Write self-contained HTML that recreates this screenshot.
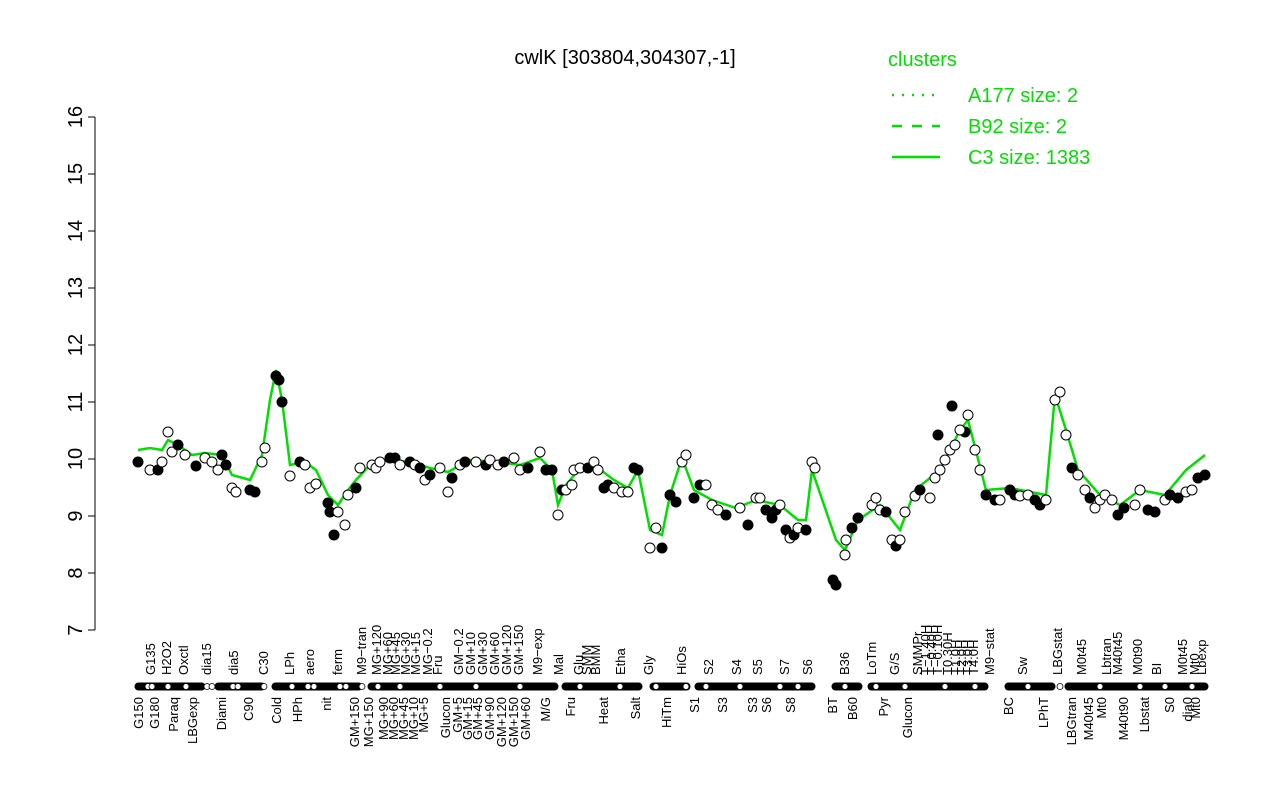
<!DOCTYPE html>
<html><head><meta charset="utf-8"><style>
body{margin:0;background:#fff}
svg text{font-family:"Liberation Sans",sans-serif}
</style></head><body>
<svg width="1280" height="800" xmlns="http://www.w3.org/2000/svg">
<rect width="1280" height="800" fill="#fff"/>
<text x="625" y="64" font-size="20" text-anchor="middle">cwlK [303804,304307,-1]</text>
<g stroke="#000" stroke-width="1">
<line x1="95" y1="117" x2="95" y2="630"/>
<line x1="95" y1="117" x2="88" y2="117"/><line x1="95" y1="174" x2="88" y2="174"/>
<line x1="95" y1="231" x2="88" y2="231"/><line x1="95" y1="288" x2="88" y2="288"/>
<line x1="95" y1="345" x2="88" y2="345"/><line x1="95" y1="402" x2="88" y2="402"/>
<line x1="95" y1="459" x2="88" y2="459"/><line x1="95" y1="516" x2="88" y2="516"/>
<line x1="95" y1="573" x2="88" y2="573"/><line x1="95" y1="630" x2="88" y2="630"/>
</g>
<g font-size="20" text-anchor="middle">
<text transform="translate(82,117) rotate(-90)">16</text>
<text transform="translate(82,174) rotate(-90)">15</text>
<text transform="translate(82,231) rotate(-90)">14</text>
<text transform="translate(82,288) rotate(-90)">13</text>
<text transform="translate(82,345) rotate(-90)">12</text>
<text transform="translate(82,402) rotate(-90)">11</text>
<text transform="translate(82,459) rotate(-90)">10</text>
<text transform="translate(82,516) rotate(-90)">9</text>
<text transform="translate(82,573) rotate(-90)">8</text>
<text transform="translate(82,630) rotate(-90)">7</text>
</g>
<text x="888" y="66" font-size="20" fill="#00e000">clusters</text>
<line x1="892" y1="95" x2="940" y2="95" stroke="#00e000" stroke-width="2.5" stroke-dasharray="2,8"/>
<text x="968" y="102" font-size="20" fill="#00e000">A177 size: 2</text>
<line x1="892" y1="126" x2="940" y2="126" stroke="#00e000" stroke-width="2.5" stroke-dasharray="10,10"/>
<text x="968" y="133" font-size="20" fill="#00e000">B92 size: 2</text>
<line x1="892" y1="157" x2="940" y2="157" stroke="#00e000" stroke-width="2.5"/>
<text x="968" y="164" font-size="20" fill="#00e000">C3 size: 1383</text>
<polyline fill="none" stroke="#00e000" stroke-width="2.5" points="138,450 150,448 162,450 168,440 178,445 192,455 205,453 222,455 232,475 250,480 262,455 270,400 276,370 282,400 290,465 305,462 316,470 328,495 338,505 348,490 356,480 370,465 390,460 410,462 430,468 448,472 470,460 498,462 520,465 540,458 552,470 558,505 566,485 580,468 598,468 614,480 628,488 638,470 650,530 662,535 670,495 682,458 694,490 712,500 736,508 756,500 780,505 798,520 806,520 812,470 836,540 845,550 858,520 880,505 900,530 915,490 940,470 960,430 968,420 986,490 1010,488 1046,495 1055,395 1066,430 1078,470 1100,495 1120,505 1140,490 1165,495 1186,470 1205,455"/>
<g stroke="#000" stroke-width="1" fill="#fff">
<circle cx="138" cy="462" r="5" fill="#000"/><circle cx="150" cy="470" r="5"/><circle cx="158" cy="470" r="5" fill="#000"/><circle cx="162" cy="462" r="5"/><circle cx="168" cy="432" r="5"/><circle cx="172" cy="452" r="5"/><circle cx="178" cy="445" r="5" fill="#000"/><circle cx="185" cy="455" r="5"/><circle cx="196" cy="466" r="5" fill="#000"/><circle cx="205" cy="458" r="5"/><circle cx="212" cy="462" r="5"/><circle cx="218" cy="470" r="5"/><circle cx="222" cy="455" r="5" fill="#000"/><circle cx="226" cy="465" r="5" fill="#000"/><circle cx="232" cy="488" r="5"/><circle cx="236" cy="492" r="5"/><circle cx="250" cy="490" r="5" fill="#000"/><circle cx="255" cy="492" r="5" fill="#000"/><circle cx="262" cy="462" r="5"/><circle cx="265" cy="448" r="5"/><circle cx="276" cy="376" r="5" fill="#000"/><circle cx="279" cy="380" r="5" fill="#000"/><circle cx="282" cy="402" r="5" fill="#000"/><circle cx="290" cy="476" r="5"/><circle cx="300" cy="462" r="5" fill="#000"/><circle cx="305" cy="465" r="5"/><circle cx="310" cy="488" r="5"/><circle cx="316" cy="484" r="5"/><circle cx="328" cy="503" r="5" fill="#000"/><circle cx="330" cy="512" r="5" fill="#000"/><circle cx="334" cy="535" r="5" fill="#000"/><circle cx="338" cy="512" r="5"/><circle cx="345" cy="525" r="5"/><circle cx="348" cy="495" r="5"/><circle cx="356" cy="488" r="5" fill="#000"/><circle cx="360" cy="468" r="5"/><circle cx="372" cy="465" r="5"/><circle cx="376" cy="468" r="5"/><circle cx="380" cy="462" r="5"/><circle cx="390" cy="458" r="5" fill="#000"/><circle cx="395" cy="458" r="5" fill="#000"/><circle cx="400" cy="465" r="5"/><circle cx="410" cy="462" r="5" fill="#000"/><circle cx="415" cy="465" r="5"/><circle cx="420" cy="468" r="5" fill="#000"/><circle cx="425" cy="480" r="5"/><circle cx="430" cy="475" r="5" fill="#000"/><circle cx="440" cy="468" r="5"/><circle cx="448" cy="492" r="5"/><circle cx="452" cy="478" r="5" fill="#000"/><circle cx="460" cy="465" r="5"/><circle cx="465" cy="462" r="5" fill="#000"/><circle cx="476" cy="462" r="5"/><circle cx="486" cy="465" r="5" fill="#000"/><circle cx="490" cy="460" r="5"/><circle cx="498" cy="465" r="5"/><circle cx="504" cy="462" r="5" fill="#000"/><circle cx="514" cy="458" r="5"/><circle cx="520" cy="470" r="5"/><circle cx="528" cy="468" r="5" fill="#000"/><circle cx="540" cy="452" r="5"/><circle cx="546" cy="470" r="5" fill="#000"/><circle cx="552" cy="470" r="5" fill="#000"/><circle cx="558" cy="515" r="5"/><circle cx="562" cy="490" r="5" fill="#000"/><circle cx="566" cy="490" r="5"/><circle cx="572" cy="485" r="5"/><circle cx="574" cy="470" r="5"/><circle cx="580" cy="468" r="5"/><circle cx="588" cy="468" r="5" fill="#000"/><circle cx="594" cy="462" r="5"/><circle cx="598" cy="470" r="5"/><circle cx="604" cy="488" r="5" fill="#000"/><circle cx="608" cy="485" r="5" fill="#000"/><circle cx="614" cy="488" r="5"/><circle cx="622" cy="492" r="5"/><circle cx="628" cy="492" r="5"/><circle cx="634" cy="468" r="5" fill="#000"/><circle cx="638" cy="470" r="5" fill="#000"/><circle cx="650" cy="548" r="5"/><circle cx="656" cy="528" r="5"/><circle cx="662" cy="548" r="5" fill="#000"/><circle cx="670" cy="495" r="5" fill="#000"/><circle cx="676" cy="502" r="5" fill="#000"/><circle cx="682" cy="462" r="5"/><circle cx="686" cy="455" r="5"/><circle cx="694" cy="498" r="5" fill="#000"/><circle cx="700" cy="485" r="5" fill="#000"/><circle cx="706" cy="485" r="5"/><circle cx="712" cy="505" r="5"/><circle cx="718" cy="510" r="5"/><circle cx="726" cy="515" r="5" fill="#000"/><circle cx="740" cy="508" r="5"/><circle cx="748" cy="525" r="5" fill="#000"/><circle cx="756" cy="498" r="5"/><circle cx="760" cy="498" r="5"/><circle cx="766" cy="510" r="5" fill="#000"/><circle cx="772" cy="518" r="5" fill="#000"/><circle cx="776" cy="510" r="5" fill="#000"/><circle cx="780" cy="505" r="5"/><circle cx="786" cy="530" r="5" fill="#000"/><circle cx="790" cy="538" r="5"/><circle cx="794" cy="535" r="5" fill="#000"/><circle cx="798" cy="528" r="5"/><circle cx="806" cy="530" r="5" fill="#000"/><circle cx="812" cy="462" r="5"/><circle cx="815" cy="468" r="5"/><circle cx="833" cy="580" r="5" fill="#000"/><circle cx="836" cy="585" r="5" fill="#000"/><circle cx="845" cy="555" r="5"/><circle cx="846" cy="540" r="5"/><circle cx="852" cy="528" r="5" fill="#000"/><circle cx="858" cy="518" r="5" fill="#000"/><circle cx="872" cy="505" r="5"/><circle cx="876" cy="498" r="5"/><circle cx="880" cy="510" r="5"/><circle cx="886" cy="512" r="5" fill="#000"/><circle cx="892" cy="540" r="5"/><circle cx="896" cy="546" r="5" fill="#000"/><circle cx="900" cy="540" r="5"/><circle cx="905" cy="512" r="5"/><circle cx="915" cy="496" r="5"/><circle cx="920" cy="490" r="5" fill="#000"/><circle cx="930" cy="498" r="5"/><circle cx="935" cy="478" r="5"/><circle cx="940" cy="470" r="5"/><circle cx="945" cy="460" r="5"/><circle cx="950" cy="450" r="5"/><circle cx="955" cy="445" r="5"/><circle cx="965" cy="432" r="5" fill="#000"/><circle cx="938" cy="435" r="5" fill="#000"/><circle cx="952" cy="406" r="5" fill="#000"/><circle cx="960" cy="430" r="5"/><circle cx="968" cy="415" r="5"/><circle cx="975" cy="450" r="5"/><circle cx="980" cy="470" r="5"/><circle cx="986" cy="495" r="5" fill="#000"/><circle cx="995" cy="500" r="5" fill="#000"/><circle cx="1000" cy="500" r="5"/><circle cx="1010" cy="490" r="5" fill="#000"/><circle cx="1015" cy="495" r="5" fill="#000"/><circle cx="1020" cy="496" r="5"/><circle cx="1028" cy="495" r="5"/><circle cx="1035" cy="500" r="5" fill="#000"/><circle cx="1040" cy="505" r="5" fill="#000"/><circle cx="1046" cy="500" r="5"/><circle cx="1055" cy="400" r="5"/><circle cx="1060" cy="392" r="5"/><circle cx="1066" cy="435" r="5"/><circle cx="1072" cy="468" r="5" fill="#000"/><circle cx="1078" cy="475" r="5"/><circle cx="1085" cy="490" r="5"/><circle cx="1090" cy="498" r="5" fill="#000"/><circle cx="1095" cy="508" r="5"/><circle cx="1100" cy="500" r="5"/><circle cx="1105" cy="495" r="5"/><circle cx="1112" cy="500" r="5"/><circle cx="1118" cy="515" r="5" fill="#000"/><circle cx="1124" cy="508" r="5" fill="#000"/><circle cx="1135" cy="505" r="5"/><circle cx="1140" cy="490" r="5"/><circle cx="1148" cy="510" r="5" fill="#000"/><circle cx="1155" cy="512" r="5" fill="#000"/><circle cx="1165" cy="500" r="5"/><circle cx="1170" cy="495" r="5" fill="#000"/><circle cx="1178" cy="498" r="5" fill="#000"/><circle cx="1186" cy="492" r="5"/><circle cx="1192" cy="490" r="5"/><circle cx="1198" cy="478" r="5" fill="#000"/><circle cx="1205" cy="475" r="5" fill="#000"/>
</g>
<!-- rug -->
<g stroke="#000" stroke-width="1" fill="#000">
<rect x="135" y="683" width="70" height="7" rx="3.5"/><rect x="215" y="683" width="50" height="7" rx="3.5"/><rect x="272" y="683" width="90" height="7" rx="3.5"/><rect x="368" y="683" width="190" height="7" rx="3.5"/><rect x="562" y="683" width="80" height="7" rx="3.5"/><rect x="650" y="683" width="40" height="7" rx="3.5"/><rect x="695" y="683" width="120" height="7" rx="3.5"/><rect x="832" y="683" width="30" height="7" rx="3.5"/><rect x="868" y="683" width="120" height="7" rx="3.5"/><rect x="1005" y="683" width="50" height="7" rx="3.5"/><rect x="1065" y="683" width="143" height="7" rx="3.5"/>
</g>
<g stroke="#000" stroke-width="0.8" fill="#fff">
<circle cx="148" cy="686.5" r="3"/><circle cx="152" cy="686.5" r="3"/><circle cx="168" cy="686.5" r="3"/><circle cx="186" cy="686.5" r="3"/><circle cx="207" cy="686.5" r="3"/><circle cx="212" cy="686.5" r="3"/><circle cx="233" cy="686.5" r="3"/><circle cx="238" cy="686.5" r="3"/><circle cx="264" cy="686.5" r="3"/><circle cx="292" cy="686.5" r="3"/><circle cx="308" cy="686.5" r="3"/><circle cx="314" cy="686.5" r="3"/><circle cx="340" cy="686.5" r="3"/><circle cx="346" cy="686.5" r="3"/><circle cx="362" cy="686.5" r="3"/><circle cx="378" cy="686.5" r="3"/><circle cx="400" cy="686.5" r="3"/><circle cx="440" cy="686.5" r="3"/><circle cx="476" cy="686.5" r="3"/><circle cx="520" cy="686.5" r="3"/><circle cx="580" cy="686.5" r="3"/><circle cx="620" cy="686.5" r="3"/><circle cx="656" cy="686.5" r="3"/><circle cx="686" cy="686.5" r="3"/><circle cx="706" cy="686.5" r="3"/><circle cx="740" cy="686.5" r="3"/><circle cx="780" cy="686.5" r="3"/><circle cx="798" cy="686.5" r="3"/><circle cx="845" cy="686.5" r="3"/><circle cx="876" cy="686.5" r="3"/><circle cx="905" cy="686.5" r="3"/><circle cx="945" cy="686.5" r="3"/><circle cx="975" cy="686.5" r="3"/><circle cx="1028" cy="686.5" r="3"/><circle cx="1060" cy="686.5" r="3"/><circle cx="1100" cy="686.5" r="3"/><circle cx="1140" cy="686.5" r="3"/><circle cx="1165" cy="686.5" r="3"/><circle cx="1192" cy="686.5" r="3"/>
</g>
<!-- labels above rug -->
<g font-size="13" text-anchor="start">
<text transform="translate(155,675) rotate(-90)">G135</text>
<text transform="translate(171,675) rotate(-90)">H2O2</text>
<text transform="translate(188,675) rotate(-90)">Oxctl</text>
<text transform="translate(211,675) rotate(-90)">dia15</text>
<text transform="translate(238,675) rotate(-90)">dia5</text>
<text transform="translate(268,675) rotate(-90)">C30</text>
<text transform="translate(294,675) rotate(-90)">LPh</text>
<text transform="translate(314,675) rotate(-90)">aero</text>
<text transform="translate(342,675) rotate(-90)">ferm</text>
<text transform="translate(366,675) rotate(-90)">M9−tran</text>
<text transform="translate(381,675) rotate(-90)">MG+120</text>
<text transform="translate(392,675) rotate(-90)">MG+60</text>
<text transform="translate(400,675) rotate(-90)">MG+45</text>
<text transform="translate(410,675) rotate(-90)">MG+30</text>
<text transform="translate(420,675) rotate(-90)">MG+15</text>
<text transform="translate(432,675) rotate(-90)">MG−0.2</text>
<text transform="translate(442,675) rotate(-90)">Fru</text>
<text transform="translate(463,675) rotate(-90)">GM−0.2</text>
<text transform="translate(475,675) rotate(-90)">GM+10</text>
<text transform="translate(487,675) rotate(-90)">GM+30</text>
<text transform="translate(499,675) rotate(-90)">GM+60</text>
<text transform="translate(511,675) rotate(-90)">GM+120</text>
<text transform="translate(523,675) rotate(-90)">GM+150</text>
<text transform="translate(542,675) rotate(-90)">M9−exp</text>
<text transform="translate(563,675) rotate(-90)">Mal</text>
<text transform="translate(583,675) rotate(-90)">Glu</text>
<text transform="translate(591,675) rotate(-90)">SMM</text>
<text transform="translate(600,675) rotate(-90)">BMM</text>
<text transform="translate(625,675) rotate(-90)">Etha</text>
<text transform="translate(653,675) rotate(-90)">Gly</text>
<text transform="translate(686,675) rotate(-90)">HiOs</text>
<text transform="translate(713,675) rotate(-90)">S2</text>
<text transform="translate(741,675) rotate(-90)">S4</text>
<text transform="translate(762,675) rotate(-90)">S5</text>
<text transform="translate(789,675) rotate(-90)">S7</text>
<text transform="translate(812,675) rotate(-90)">S6</text>
<text transform="translate(849,675) rotate(-90)">B36</text>
<text transform="translate(876,675) rotate(-90)">LoTm</text>
<text transform="translate(899,675) rotate(-90)">G/S</text>
<text transform="translate(922,675) rotate(-90)">SMMPr</text>
<text transform="translate(930,675) rotate(-90)">T−1.40H</text>
<text transform="translate(936,675) rotate(-90)">T−0.40H</text>
<text transform="translate(942,675) rotate(-90)">T−0.10H</text>
<text transform="translate(952,675) rotate(-90)">T0.30H</text>
<text transform="translate(960,675) rotate(-90)">T1.0H</text>
<text transform="translate(966,675) rotate(-90)">T2.0H</text>
<text transform="translate(972,675) rotate(-90)">T3.0H</text>
<text transform="translate(978,675) rotate(-90)">T4.0H</text>
<text transform="translate(994,675) rotate(-90)">M9−stat</text>
<text transform="translate(1027,675) rotate(-90)">Sw</text>
<text transform="translate(1062,675) rotate(-90)">LBGstat</text>
<text transform="translate(1086,675) rotate(-90)">M0t45</text>
<text transform="translate(1111,675) rotate(-90)">Lbtran</text>
<text transform="translate(1122,675) rotate(-90)">M40t45</text>
<text transform="translate(1142,675) rotate(-90)">M0t90</text>
<text transform="translate(1161,675) rotate(-90)">BI</text>
<text transform="translate(1187,675) rotate(-90)">M0t45</text>
<text transform="translate(1199,675) rotate(-90)">Mt0</text>
<text transform="translate(1206,675) rotate(-90)">Lbexp</text>
</g>
<!-- labels below rug -->
<g font-size="13" text-anchor="end">
<text transform="translate(143,697) rotate(-90)">G150</text>
<text transform="translate(159,697) rotate(-90)">G180</text>
<text transform="translate(178,697) rotate(-90)">Paraq</text>
<text transform="translate(197,697) rotate(-90)">LBGexp</text>
<text transform="translate(226,697) rotate(-90)">Diami</text>
<text transform="translate(253,697) rotate(-90)">C90</text>
<text transform="translate(281,697) rotate(-90)">Cold</text>
<text transform="translate(302,697) rotate(-90)">HPh</text>
<text transform="translate(331,697) rotate(-90)">nit</text>
<text transform="translate(359,697) rotate(-90)">GM+150</text>
<text transform="translate(373,697) rotate(-90)">MG+150</text>
<text transform="translate(388,697) rotate(-90)">MG+90</text>
<text transform="translate(398,697) rotate(-90)">MG+60</text>
<text transform="translate(408,697) rotate(-90)">MG+45</text>
<text transform="translate(418,697) rotate(-90)">MG+10</text>
<text transform="translate(428,697) rotate(-90)">MG+5</text>
<text transform="translate(450,697) rotate(-90)">Glucon</text>
<text transform="translate(462,697) rotate(-90)">GM+5</text>
<text transform="translate(472,697) rotate(-90)">GM+15</text>
<text transform="translate(482,697) rotate(-90)">GM+45</text>
<text transform="translate(494,697) rotate(-90)">GM+90</text>
<text transform="translate(506,697) rotate(-90)">GM+120</text>
<text transform="translate(518,697) rotate(-90)">GM+150</text>
<text transform="translate(530,697) rotate(-90)">GM+60</text>
<text transform="translate(550,697) rotate(-90)">M/G</text>
<text transform="translate(575,697) rotate(-90)">Fru</text>
<text transform="translate(608,697) rotate(-90)">Heat</text>
<text transform="translate(640,697) rotate(-90)">Salt</text>
<text transform="translate(671,697) rotate(-90)">HiTm</text>
<text transform="translate(699,697) rotate(-90)">S1</text>
<text transform="translate(727,697) rotate(-90)">S3</text>
<text transform="translate(757,697) rotate(-90)">S3</text>
<text transform="translate(771,697) rotate(-90)">S6</text>
<text transform="translate(795,697) rotate(-90)">S8</text>
<text transform="translate(837,697) rotate(-90)">BT</text>
<text transform="translate(857,697) rotate(-90)">B60</text>
<text transform="translate(888,697) rotate(-90)">Pyr</text>
<text transform="translate(912,697) rotate(-90)">Glucon</text>
<text transform="translate(1013,697) rotate(-90)">BC</text>
<text transform="translate(1048,697) rotate(-90)">LPhT</text>
<text transform="translate(1076,697) rotate(-90)">LBGtran</text>
<text transform="translate(1093,697) rotate(-90)">M40t45</text>
<text transform="translate(1106,697) rotate(-90)">Mt0</text>
<text transform="translate(1128,697) rotate(-90)">M40t90</text>
<text transform="translate(1149,697) rotate(-90)">Lbstat</text>
<text transform="translate(1174,697) rotate(-90)">S0</text>
<text transform="translate(1192,697) rotate(-90)">dia0</text>
<text transform="translate(1200,697) rotate(-90)">Mt0</text>
</g>
</svg>
</body></html>
